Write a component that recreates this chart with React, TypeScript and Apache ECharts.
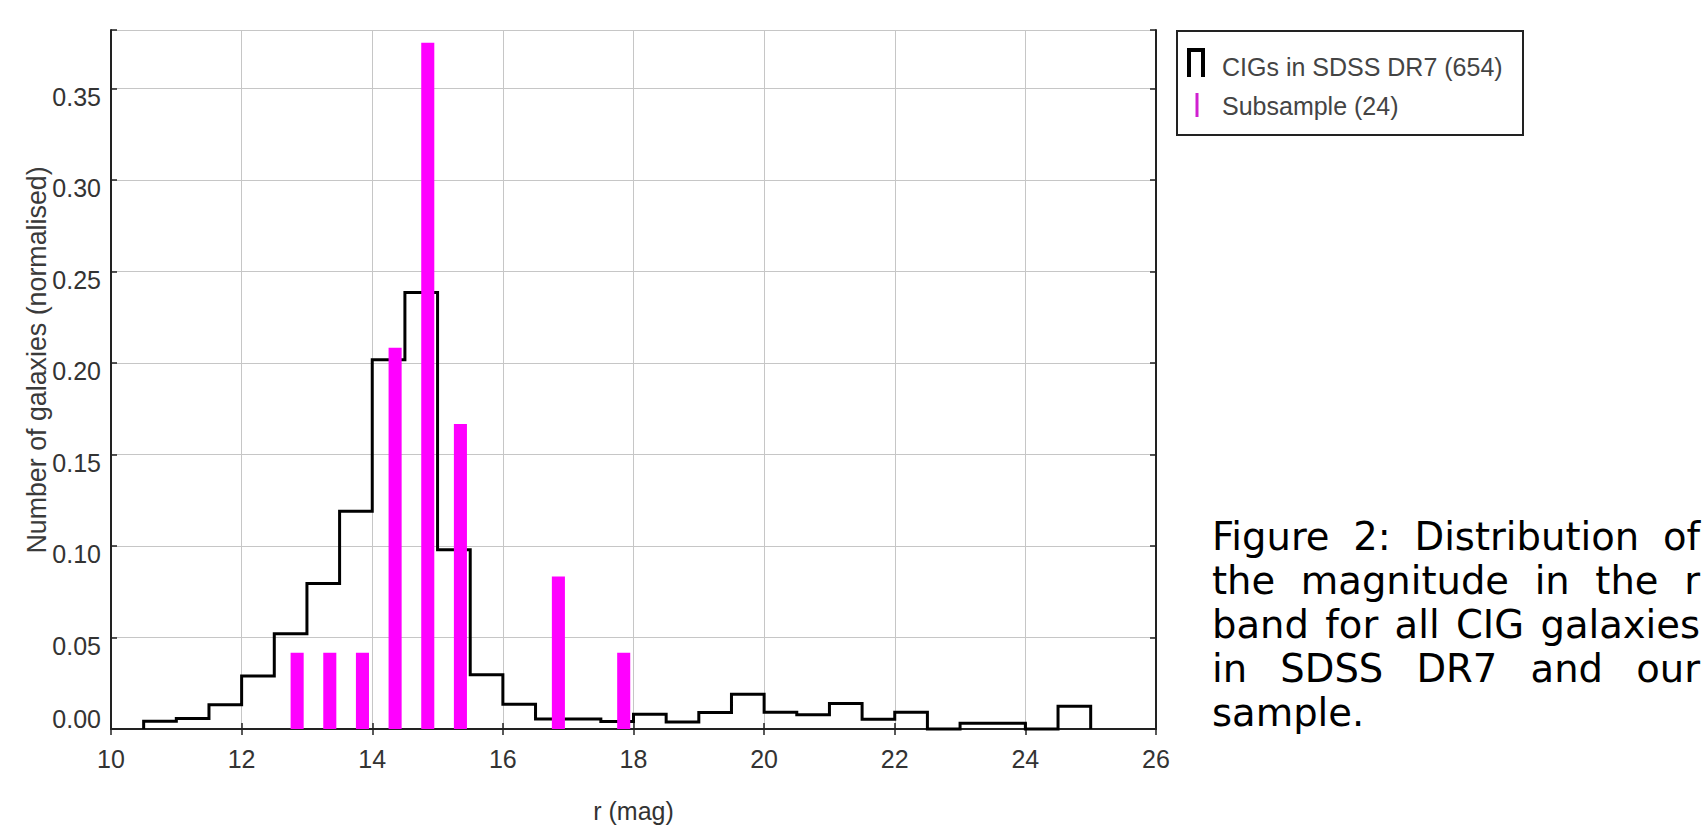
import React, { useEffect, useRef } from "react";
import * as echarts from "echarts";

// ---- Data ----
// CIGs in SDSS DR7 (654): normalised histogram, bins of 0.5 mag (left edges)
const cigBinLeft = [
  10.5, 11, 11.5, 12, 12.5, 13, 13.5, 14, 14.5, 15, 15.5, 16, 16.5, 17, 17.5,
  18, 18.5, 19, 19.5, 20, 20.5, 21, 21.5, 22, 22.5, 23, 23.5, 24, 24.5,
];
const cigValues = [
  0.0042, 0.0057, 0.0133, 0.029, 0.052, 0.0795, 0.119, 0.2018, 0.2385, 0.0979,
  0.0297, 0.0135, 0.0055, 0.0055, 0.0041, 0.008, 0.0038, 0.009, 0.019, 0.0091,
  0.0078, 0.0139, 0.0053, 0.0091, 0, 0.0032, 0.0032, 0, 0.0124,
];
const CIG_BIN_WIDTH = 0.5;

// Subsample (24): bar centres and normalised heights
const subCenters = [12.85, 13.35, 13.85, 14.35, 14.85, 15.35, 16.85, 17.85];
const subValues = [0.0417, 0.0417, 0.0417, 0.2083, 0.375, 0.1667, 0.0833, 0.0417];
const SUB_BAR_WIDTH = 0.2;

const xTicks = { min: 10, max: 26, interval: 2 };
const yTicks = { min: 0, max: 0.382, interval: 0.05 };

const seriesNames = ["CIGs in SDSS DR7 (654)", "Subsample (24)"];
const xTitle = "r (mag)";
const yTitle = "Number of galaxies (normalised)";
const captionLines = [
  "Figure 2: Distribution of",
  "the magnitude in the r",
  "band for all CIG galaxies",
  "in SDSS DR7 and our",
  "sample.",
];

const W = 1702;
const H = 837;
const AXIS_FONT = '"Liberation Sans", Arial, sans-serif';
const CAPTION_FONT = '"DejaVu Sans", sans-serif';

function buildOutline(): number[][] {
  const pts: number[][] = [];
  pts.push([cigBinLeft[0], 0]);
  for (let i = 0; i < cigBinLeft.length; i++) {
    pts.push([cigBinLeft[i], cigValues[i]]);
    pts.push([cigBinLeft[i] + CIG_BIN_WIDTH, cigValues[i]]);
  }
  pts.push([cigBinLeft[cigBinLeft.length - 1] + CIG_BIN_WIDTH, 0]);
  return pts;
}

function buildCaption(): any[] {
  const fontSize = 38.5;
  const font = `${fontSize}px ${CAPTION_FONT}`;
  const left = 1212;
  const right = 1700;
  const firstBaseline = 550;
  const lineGap = 44;
  const centralOffset = 0.346 * fontSize;
  const canvas = document.createElement("canvas");
  const ctx = canvas.getContext("2d")!;
  ctx.font = font;
  const els: any[] = [];
  captionLines.forEach((line, li) => {
    const words = line.split(" ");
    const y = firstBaseline + li * lineGap - centralOffset;
    const isLast = li === captionLines.length - 1;
    const widths = words.map((w) => ctx.measureText(w).width);
    const total = widths.reduce((a, b) => a + b, 0);
    const gap = isLast || words.length < 2
      ? ctx.measureText(" ").width
      : (right - left - total) / (words.length - 1);
    let x = left;
    words.forEach((w, wi) => {
      els.push({
        type: "text",
        x,
        y,
        silent: true,
        style: {
          text: w,
          font,
          fill: "#000",
          align: "left",
          textAlign: "left",
          verticalAlign: "middle",
          textVerticalAlign: "middle",
        },
      });
      x += widths[wi] + gap;
    });
  });
  return els;
}

export default function App() {
  const ref = useRef<HTMLDivElement>(null);

  useEffect(() => {
    document.body.style.margin = "0";
    if (!ref.current) return;
    const chart = echarts.init(ref.current, undefined, { renderer: "svg" });

    const gridLeft = 111;
    const gridTop = 30;
    const gridRight = W - 1156;
    const gridBottom = H - 729;

    const frameLine = { show: true, lineStyle: { color: "#222", width: 2 } };
    const inTick = { show: true, inside: true, length: 6, lineStyle: { color: "#222", width: 1.5 } };
    const gridLine = { show: true, lineStyle: { color: "#c6c6c6", width: 1 } };
    const labelColor = "#333";

    const yLabelFormatter = (v: number) => {
      const r = Math.round(v / yTicks.interval);
      if (Math.abs(v - r * yTicks.interval) > 1e-6) return "";
      const s = v.toFixed(2);
      return r === 0 ? `{z|${s}}` : `{n|${s}}`;
    };

    const option: any = {
      animation: false,
      backgroundColor: "#fff",
      grid: { left: gridLeft, top: gridTop, right: gridRight, bottom: gridBottom, containLabel: false },
      xAxis: [
        {
          type: "value",
          position: "bottom",
          min: xTicks.min,
          max: xTicks.max,
          interval: xTicks.interval,
          axisLine: frameLine,
          axisTick: inTick,
          splitLine: gridLine,
          axisLabel: {
            show: true,
            margin: 17,
            fontSize: 25,
            fontFamily: AXIS_FONT,
            color: labelColor,
          },
          name: xTitle,
          nameLocation: "middle",
          nameGap: 69,
          nameTextStyle: { fontSize: 25, fontFamily: AXIS_FONT, color: labelColor },
        },
        {
          type: "value",
          position: "top",
          min: xTicks.min,
          max: xTicks.max,
          interval: xTicks.interval,
          axisLine: frameLine,
          axisTick: inTick,
          splitLine: { show: false },
          axisLabel: { show: false },
        },
      ],
      yAxis: [
        {
          type: "value",
          position: "left",
          min: yTicks.min,
          max: yTicks.max,
          interval: yTicks.interval,
          axisLine: frameLine,
          axisTick: inTick,
          splitLine: gridLine,
          axisLabel: {
            show: true,
            margin: 10,
            fontSize: 25,
            fontFamily: AXIS_FONT,
            color: labelColor,
            formatter: yLabelFormatter,
            rich: {
              n: { fontSize: 25, fontFamily: AXIS_FONT, color: labelColor, padding: [16, 0, 0, 0] },
              z: { fontSize: 25, fontFamily: AXIS_FONT, color: labelColor, padding: [0, 0, 20, 0] },
            },
          },
        },
        {
          type: "value",
          position: "right",
          min: yTicks.min,
          max: yTicks.max,
          interval: yTicks.interval,
          axisLine: frameLine,
          axisTick: inTick,
          splitLine: { show: false },
          axisLabel: { show: false },
        },
      ],
      series: [
        {
          name: seriesNames[0],
          type: "line",
          xAxisIndex: 0,
          yAxisIndex: 0,
          data: buildOutline(),
          showSymbol: false,
          symbol: "none",
          clip: false,
          lineStyle: { color: "#000", width: 3, join: "miter", cap: "butt" },
          z: 3,
        },
        {
          name: seriesNames[1],
          type: "custom",
          xAxisIndex: 0,
          yAxisIndex: 0,
          data: subCenters.map((c, i) => [c, subValues[i]]),
          renderItem: (params: any, api: any) => {
            const c = api.value(0);
            const v = api.value(1);
            const p0 = api.coord([c - SUB_BAR_WIDTH / 2, v]);
            const p1 = api.coord([c + SUB_BAR_WIDTH / 2, 0]);
            return {
              type: "rect",
              shape: { x: p0[0], y: p0[1], width: p1[0] - p0[0], height: p1[1] - p0[1] },
              style: { fill: "#ff00ff" },
            };
          },
          z: 4,
        },
      ],
      graphic: [
        {
          type: "text",
          x: 37,
          y: 360,
          rotation: Math.PI / 2,
          silent: true,
          style: {
            text: yTitle,
            fontSize: 26.8,
            fontFamily: AXIS_FONT,
            fill: "#3a3a3a",
            align: "center",
            textAlign: "center",
            verticalAlign: "middle",
            textVerticalAlign: "middle",
          },
        },
        {
          type: "rect",
          shape: { x: 1177, y: 31, width: 346, height: 104 },
          style: { fill: "#fff", stroke: "#222", lineWidth: 2 },
          silent: true,
        },
        {
          type: "polyline",
          shape: { points: [[1189, 77], [1189, 50], [1203, 50], [1203, 77]] },
          style: { stroke: "#000", lineWidth: 4, fill: null, lineJoin: "miter" },
          silent: true,
        },
        {
          type: "line",
          shape: { x1: 1197, y1: 93, x2: 1197, y2: 117 },
          style: { stroke: "#d020d0", lineWidth: 3 },
          silent: true,
        },
        {
          type: "text",
          x: 1222,
          y: 67,
          silent: true,
          style: {
            text: seriesNames[0],
            fontSize: 25,
            fontFamily: AXIS_FONT,
            fill: "#444",
            align: "left",
            textAlign: "left",
            verticalAlign: "middle",
            textVerticalAlign: "middle",
          },
        },
        {
          type: "text",
          x: 1222,
          y: 106,
          silent: true,
          style: {
            text: seriesNames[1],
            fontSize: 25,
            fontFamily: AXIS_FONT,
            fill: "#444",
            align: "left",
            textAlign: "left",
            verticalAlign: "middle",
            textVerticalAlign: "middle",
          },
        },
        ...buildCaption(),
      ],
    };

    chart.setOption(option);
    return () => {
      chart.dispose();
    };
  }, []);

  return <div ref={ref} style={{ width: W, height: H }} />;
}
